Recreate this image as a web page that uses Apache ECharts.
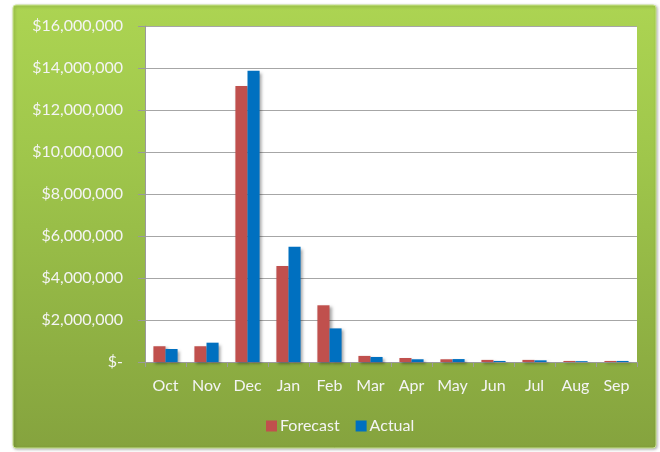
<!DOCTYPE html>
<html>
<head>
<meta charset="utf-8">
<script src="https://cdn.jsdelivr.net/npm/echarts@6/dist/echarts.min.js"></script>
<style>
html,body{margin:0;padding:0;background:#ffffff;}
#chart{width:660px;height:452px;}
</style>
</head>
<body>
<div id="chart"></div>
<script>
const months = ['Oct','Nov','Dec','Jan','Feb','Mar','Apr','May','Jun','Jul','Aug','Sep'];
const forecast = [750000, 750000, 13140000, 4570000, 2700000, 290000, 190000, 130000, 100000, 100000, 50000, 50000];
const actual = [620000, 920000, 13870000, 5490000, 1600000, 240000, 130000, 140000, 50000, 80000, 40000, 50000];
const yTicks = [0, 2000000, 4000000, 6000000, 8000000, 10000000, 12000000, 14000000, 16000000];

const chart = echarts.init(document.getElementById('chart'), null, {renderer: 'canvas'});
const font = 'Lato, "Open Sans", sans-serif';
function fmt(v){
  if (v === 0) return '$-';
  return '$' + v.toLocaleString('en-US');
}
const shadow = {shadowColor:'rgba(0,0,0,0.35)', shadowBlur:3, shadowOffsetX:2, shadowOffsetY:2};
chart.setOption({
  animation: false,
  backgroundColor: '#ffffff',
  textStyle: {fontFamily: font},
  graphic: [{
    type: 'rect',
    z: -10,
    shape: {x: 13, y: 5, width: 643, height: 443, r: 3},
    style: {
      fill: new echarts.graphic.LinearGradient(0, 0, 0, 1, [
        {offset: 0, color: '#acd452'},
        {offset: 0.35, color: '#9fc64b'},
        {offset: 1, color: '#85a33e'}
      ]),
      stroke: '#c9e58f',
      lineWidth: 1,
      shadowColor: 'rgba(0,0,0,0.3)',
      shadowBlur: 3,
      shadowOffsetX: 1,
      shadowOffsetY: 1
    }
  }],
  grid: {
    left: 145, right: 23, top: 26, bottom: 90,
    show: true, backgroundColor: '#ffffff', borderWidth: 0
  },
  legend: {
    left: 261, top: 413,
    itemWidth: 11, itemHeight: 11, itemGap: 16,
    icon: 'rect',
    textStyle: {color: '#f4f4f4', fontSize: 16, fontFamily: font, padding: [0,0,0,-2]},
    data: ['Forecast', 'Actual']
  },
  xAxis: {
    type: 'category',
    data: months,
    axisLine: {show: true, lineStyle: {color: '#9a9a9a', width: 1}},
    axisTick: {show: true, length: 5, lineStyle: {color: '#9a9a9a'}},
    axisLabel: {color: '#f4f4f4', fontSize: 16, margin: 16, fontFamily: font}
  },
  yAxis: {
    type: 'value',
    min: yTicks[0], max: yTicks[yTicks.length-1], interval: 2000000,
    axisLine: {show: true, lineStyle: {color: '#9a9a9a', width: 1}},
    axisTick: {show: true, length: 7, lineStyle: {color: '#9a9a9a'}},
    splitLine: {show: true, lineStyle: {color: '#a6a6a6', width: 1}},
    axisLabel: {color: '#f4f4f4', fontSize: 16, margin: 22, fontFamily: font, formatter: fmt}
  },
  series: [
    {name: 'Forecast', type: 'bar', data: forecast, barGap: '0%', barCategoryGap: '41%',
     itemStyle: Object.assign({color: '#c0504d'}, shadow)},
    {name: 'Actual', type: 'bar', data: actual,
     itemStyle: Object.assign({color: '#0070c0'}, shadow)}
  ]
});
</script>
</body>
</html>
